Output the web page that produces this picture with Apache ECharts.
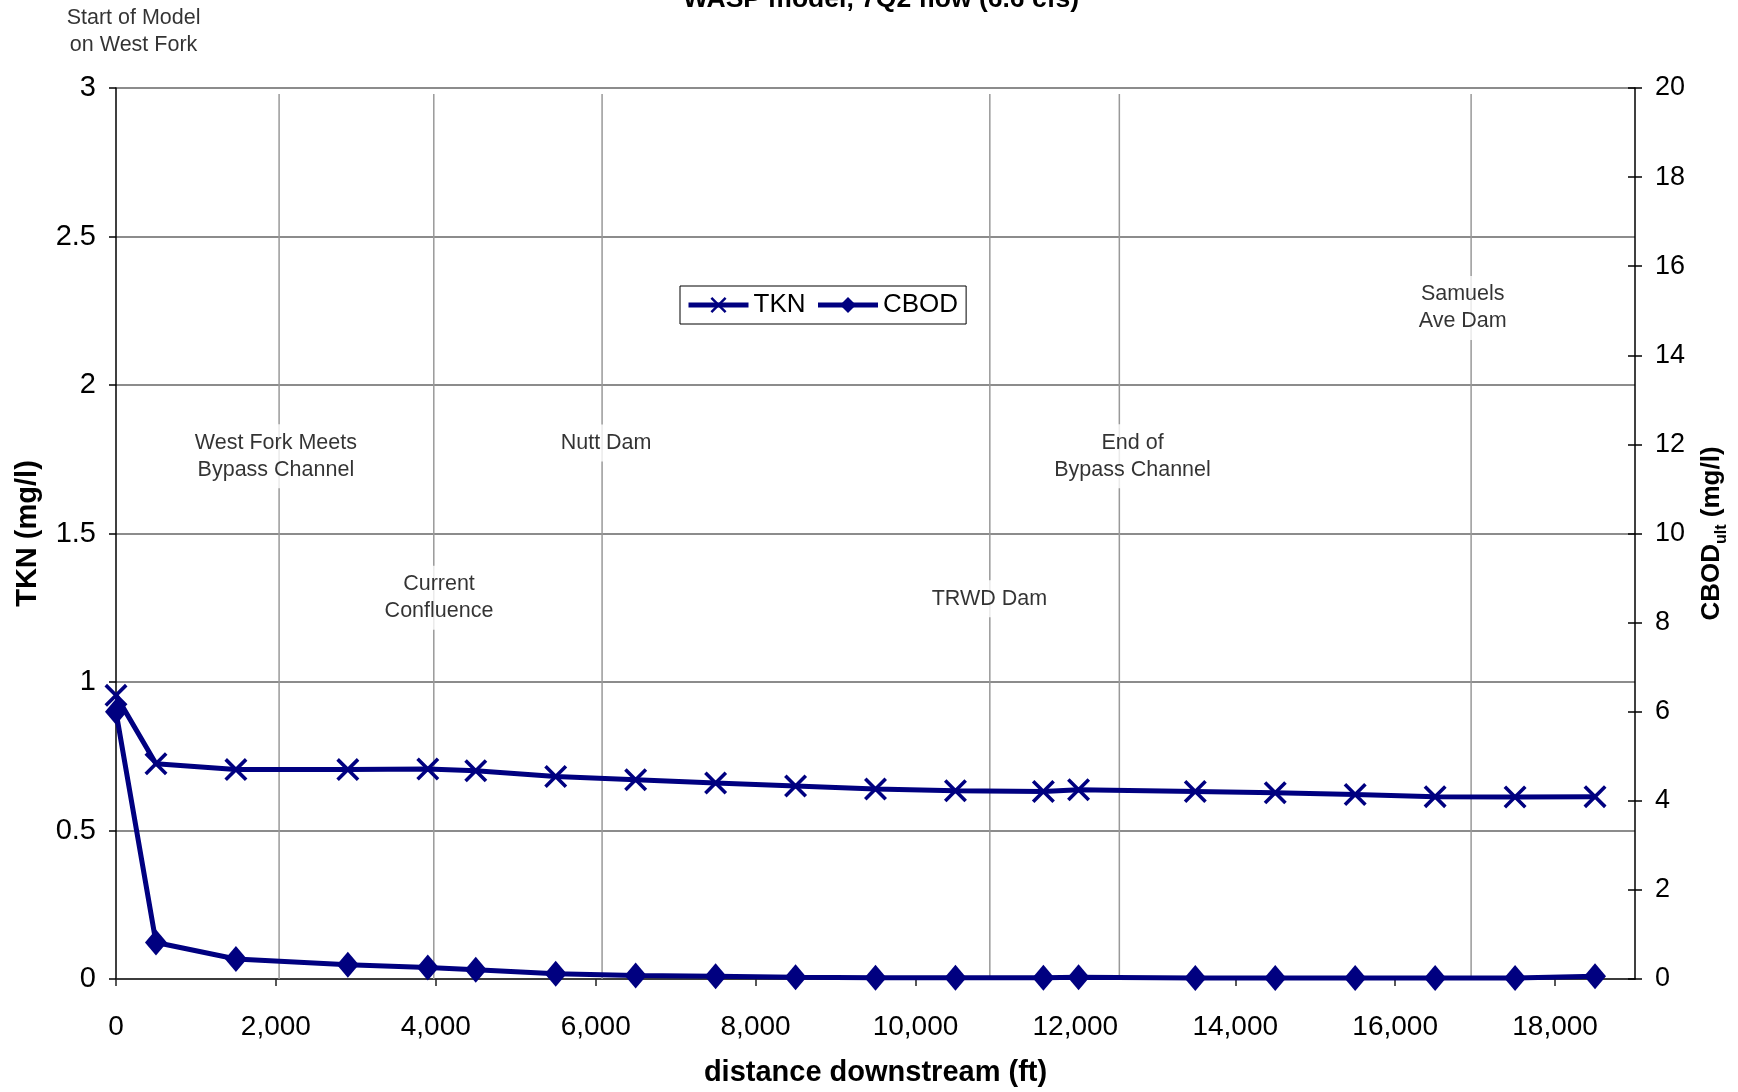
<!DOCTYPE html>
<html>
<head>
<meta charset="utf-8">
<title>WASP model, 7Q2 flow</title>
<script src="https://cdn.jsdelivr.net/npm/echarts@6/dist/echarts.min.js"></script>
<style>
  html, body { margin: 0; padding: 0; background: #fff; }
  #chart { width: 1738px; height: 1092px; }
</style>
</head>
<body>
<div id="chart"></div>
<script>
// Distance downstream of each model segment (ft)
const distanceFt = [0, 500, 1500, 2900, 3900, 4500, 5500, 6500, 7500, 8500,
                    9500, 10500, 11600, 12040, 13500, 14500, 15500, 16500, 17500, 18500];
// Total Kjeldahl nitrogen (mg/l), left axis
const tknValues = [0.955, 0.725, 0.705, 0.705, 0.707, 0.701, 0.682, 0.671, 0.660, 0.650,
                   0.640, 0.634, 0.631, 0.637, 0.631, 0.627, 0.621, 0.614, 0.613, 0.614];
// Ultimate carbonaceous BOD (mg/l), right axis
const cbodValues = [6.0, 0.82, 0.45, 0.32, 0.26, 0.21, 0.12, 0.08, 0.06, 0.04,
                    0.03, 0.03, 0.03, 0.04, 0.02, 0.02, 0.02, 0.02, 0.02, 0.06];

// River landmarks along the reach
const landmarkNames = ['Start of Model\non West Fork', 'West Fork Meets\nBypass Channel',
                       'Current\nConfluence', 'Nutt Dam', 'TRWD Dam',
                       'End of\nBypass Channel', 'Samuels\nAve Dam'];
const landmarkX = [0, 2040, 3975, 6080, 10930, 12550, 16950];
// where each landmark's caption sits (distance ft, TKN-axis units)
const labelX = [220, 2000, 4040, 6130, 10925, 12715, 16845];
const labelY = [3.19, 1.760, 1.284, 1.805, 1.280, 1.760, 2.259];
const landmarkTop = 2.98;

// Axis tick settings
const xTicks = { min: 0, max: 19000, interval: 2000 };
const tknTicks = { min: 0, max: 3, interval: 0.5 };
const cbodTicks = { min: 0, max: 20, interval: 2 };

const FONT = "'Liberation Sans', Arial, sans-serif";
const NAVY = '#000080';

// filled X-shaped marker
const crossPath = 'path://M0,2.2L2.2,0L20,17.8L17.8,20Z M17.8,0L20,2.2L2.2,20L0,17.8Z';

const chart = echarts.init(document.getElementById('chart'), null, { renderer: 'canvas' });

const landmarkSeries = landmarkX.slice(1).map((x, i) => ({
  type: 'line',
  name: 'landmark' + i,
  xAxisIndex: 0,
  yAxisIndex: 0,
  data: [[x, 0], [x, landmarkTop]],
  symbol: 'none',
  silent: true,
  z: 1,
  lineStyle: { color: '#999', width: 1.5 }
}));

const option = {
  animation: false,
  textStyle: { fontFamily: FONT, color: '#000' },
  title: {
    text: 'WASP model, 7Q2 flow (6.6 cfs)',
    left: 876,
    textAlign: 'center',
    top: -19,
    textStyle: { fontFamily: FONT, fontSize: 26.5, fontWeight: 'bold', color: '#000' }
  },
  grid: { left: 116, right: 95, top: 88, bottom: 111, containLabel: false },
  legend: {
    data: ['TKN', 'CBOD'],
    left: 680,
    top: 286,
    orient: 'horizontal',
    backgroundColor: '#fff',
    borderColor: '#000',
    borderWidth: 1,
    padding: [6, 8, 6, 6],
    itemWidth: 60,
    itemHeight: 20,
    itemGap: 10,
    lineStyle: { width: 5 },
    textStyle: { fontFamily: FONT, fontSize: 26, color: '#000' }
  },
  xAxis: {
    type: 'value',
    min: xTicks.min,
    max: xTicks.max,
    interval: xTicks.interval,
    name: 'distance downstream (ft)',
    nameLocation: 'middle',
    nameGap: 79,
    nameTextStyle: { fontFamily: FONT, fontSize: 29, fontWeight: 'bold', color: '#000' },
    axisLine: { show: true, onZero: false, lineStyle: { color: '#222', width: 1.5 } },
    axisTick: { show: true, length: 7, lineStyle: { color: '#222', width: 1.5 } },
    axisLabel: {
      margin: 34,
      fontSize: 28,
      color: '#000',
      fontFamily: FONT,
      showMaxLabel: false,
      formatter: v => v.toLocaleString('en-US')
    },
    splitLine: { show: false }
  },
  yAxis: [
    {
      type: 'value',
      position: 'left',
      min: tknTicks.min,
      max: tknTicks.max,
      interval: tknTicks.interval,
      name: 'TKN (mg/l)',
      nameLocation: 'middle',
      nameRotate: 90,
      nameGap: 74,
      nameTextStyle: { fontFamily: FONT, fontSize: 29, fontWeight: 'bold', color: '#000' },
      axisLine: { show: true, lineStyle: { color: '#000', width: 1.5 } },
      axisTick: { show: true, length: 7, lineStyle: { color: '#000', width: 1.5 } },
      axisLabel: { margin: 20, fontSize: 29, color: '#000', fontFamily: FONT },
      splitLine: { show: true, lineStyle: { color: '#666', width: 1.5 } }
    },
    {
      type: 'value',
      position: 'right',
      min: cbodTicks.min,
      max: cbodTicks.max,
      interval: cbodTicks.interval,
      name: '{m|CBOD}{s|ult}{m| (mg/l)}',
      nameLocation: 'middle',
      nameRotate: 90,
      nameGap: 59,
      nameTextStyle: {
        fontFamily: FONT,
        color: '#000',
        rich: {
          m: { fontFamily: FONT, fontSize: 26, fontWeight: 'bold', lineHeight: 36, color: '#000' },
          s: { fontFamily: FONT, fontSize: 16, fontWeight: 'bold', lineHeight: 16,
               verticalAlign: 'bottom', color: '#000' }
        }
      },
      axisLine: { show: true, lineStyle: { color: '#000', width: 1.5 } },
      axisTick: { show: true, length: 7, lineStyle: { color: '#000', width: 1.5 } },
      axisLabel: { margin: 20, fontSize: 27, color: '#000', fontFamily: FONT },
      splitLine: { show: false }
    },
    {
      // inner half of the right axis's crossing tick marks
      type: 'value',
      position: 'right',
      min: cbodTicks.min,
      max: cbodTicks.max,
      interval: cbodTicks.interval,
      axisLine: { show: false },
      axisTick: { show: true, inside: true, length: 7, lineStyle: { color: '#000', width: 1.5 } },
      axisLabel: { show: false },
      splitLine: { show: false }
    }
  ],
  series: [
    ...landmarkSeries,
    {
      type: 'scatter',
      name: 'landmark labels',
      xAxisIndex: 0,
      yAxisIndex: 0,
      clip: false,
      silent: true,
      z: 2,
      symbolSize: 1,
      itemStyle: { color: 'rgba(0,0,0,0)' },
      data: landmarkNames.map((n, i) => ({ name: n, value: [labelX[i], labelY[i]] })),
      label: {
        show: true,
        position: 'inside',
        formatter: '{b}',
        fontFamily: FONT,
        fontSize: 21.5,
        lineHeight: 27,
        color: '#000',
        align: 'center',
        verticalAlign: 'middle',
        backgroundColor: '#fff',
        padding: [5, 4]
      }
    },
    {
      type: 'line',
      name: 'TKN',
      xAxisIndex: 0,
      yAxisIndex: 0,
      z: 3,
      data: distanceFt.map((x, i) => [x, tknValues[i]]),
      symbol: crossPath,
      symbolSize: 23,
      showAllSymbol: true,
      lineStyle: { color: NAVY, width: 5 },
      itemStyle: { color: NAVY, borderWidth: 0 }
    },
    {
      type: 'line',
      name: 'CBOD',
      xAxisIndex: 0,
      yAxisIndex: 1,
      z: 3,
      data: distanceFt.map((x, i) => [x, cbodValues[i]]),
      symbol: 'diamond',
      symbolSize: [22, 26],
      showAllSymbol: true,
      lineStyle: { color: NAVY, width: 5 },
      itemStyle: { color: NAVY, borderWidth: 0 }
    }
  ]
};

chart.setOption(option);
</script>
</body>
</html>
